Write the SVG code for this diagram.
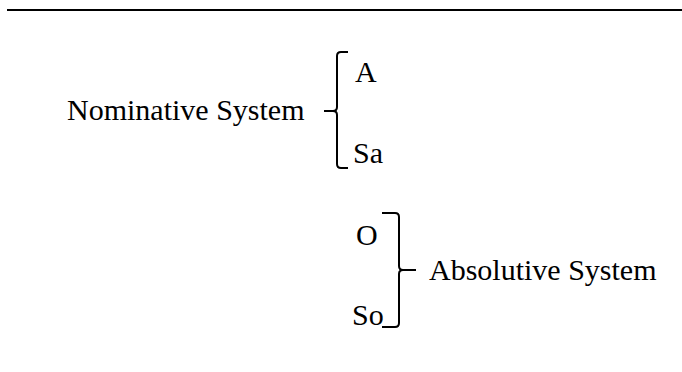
<svg xmlns="http://www.w3.org/2000/svg" width="682" height="372" viewBox="0 0 682 372">
<style>
text{font-family:"Liberation Serif","Times New Roman",serif;font-size:30px;fill:#000}
.br{fill:none;stroke:#000;stroke-width:2}
</style>
<rect width="682" height="372" fill="#fff"/>
<line x1="7" y1="10" x2="682" y2="10" stroke="#000" stroke-width="2.2"/>
<g id="nominative">
<text x="67" y="120">Nominative System</text>
</g>
<g id="A"><text x="355" y="82">A</text></g>
<g id="Sa"><text x="353" y="163">Sa</text></g>
<g id="O"><text x="356" y="245">O</text></g>
<g id="So"><text x="352" y="325">So</text></g>
<g id="absolutive">
<text x="429" y="280">Absolutive System</text>
</g>
<g id="connectors">
<path class="br" d="M348,52 H341 Q337,52 337,56 V107 Q337,111 333,111 H324 M333,111 Q337,111 337,115 V164 Q337,168 341,168 H348"/>
<path class="br" d="M382,213 H395 Q399,213 399,217 V266 Q399,270 403,270 H416 M403,270 Q399,270 399,274 V323 Q399,327 395,327 H382"/>
</g>
</svg>
